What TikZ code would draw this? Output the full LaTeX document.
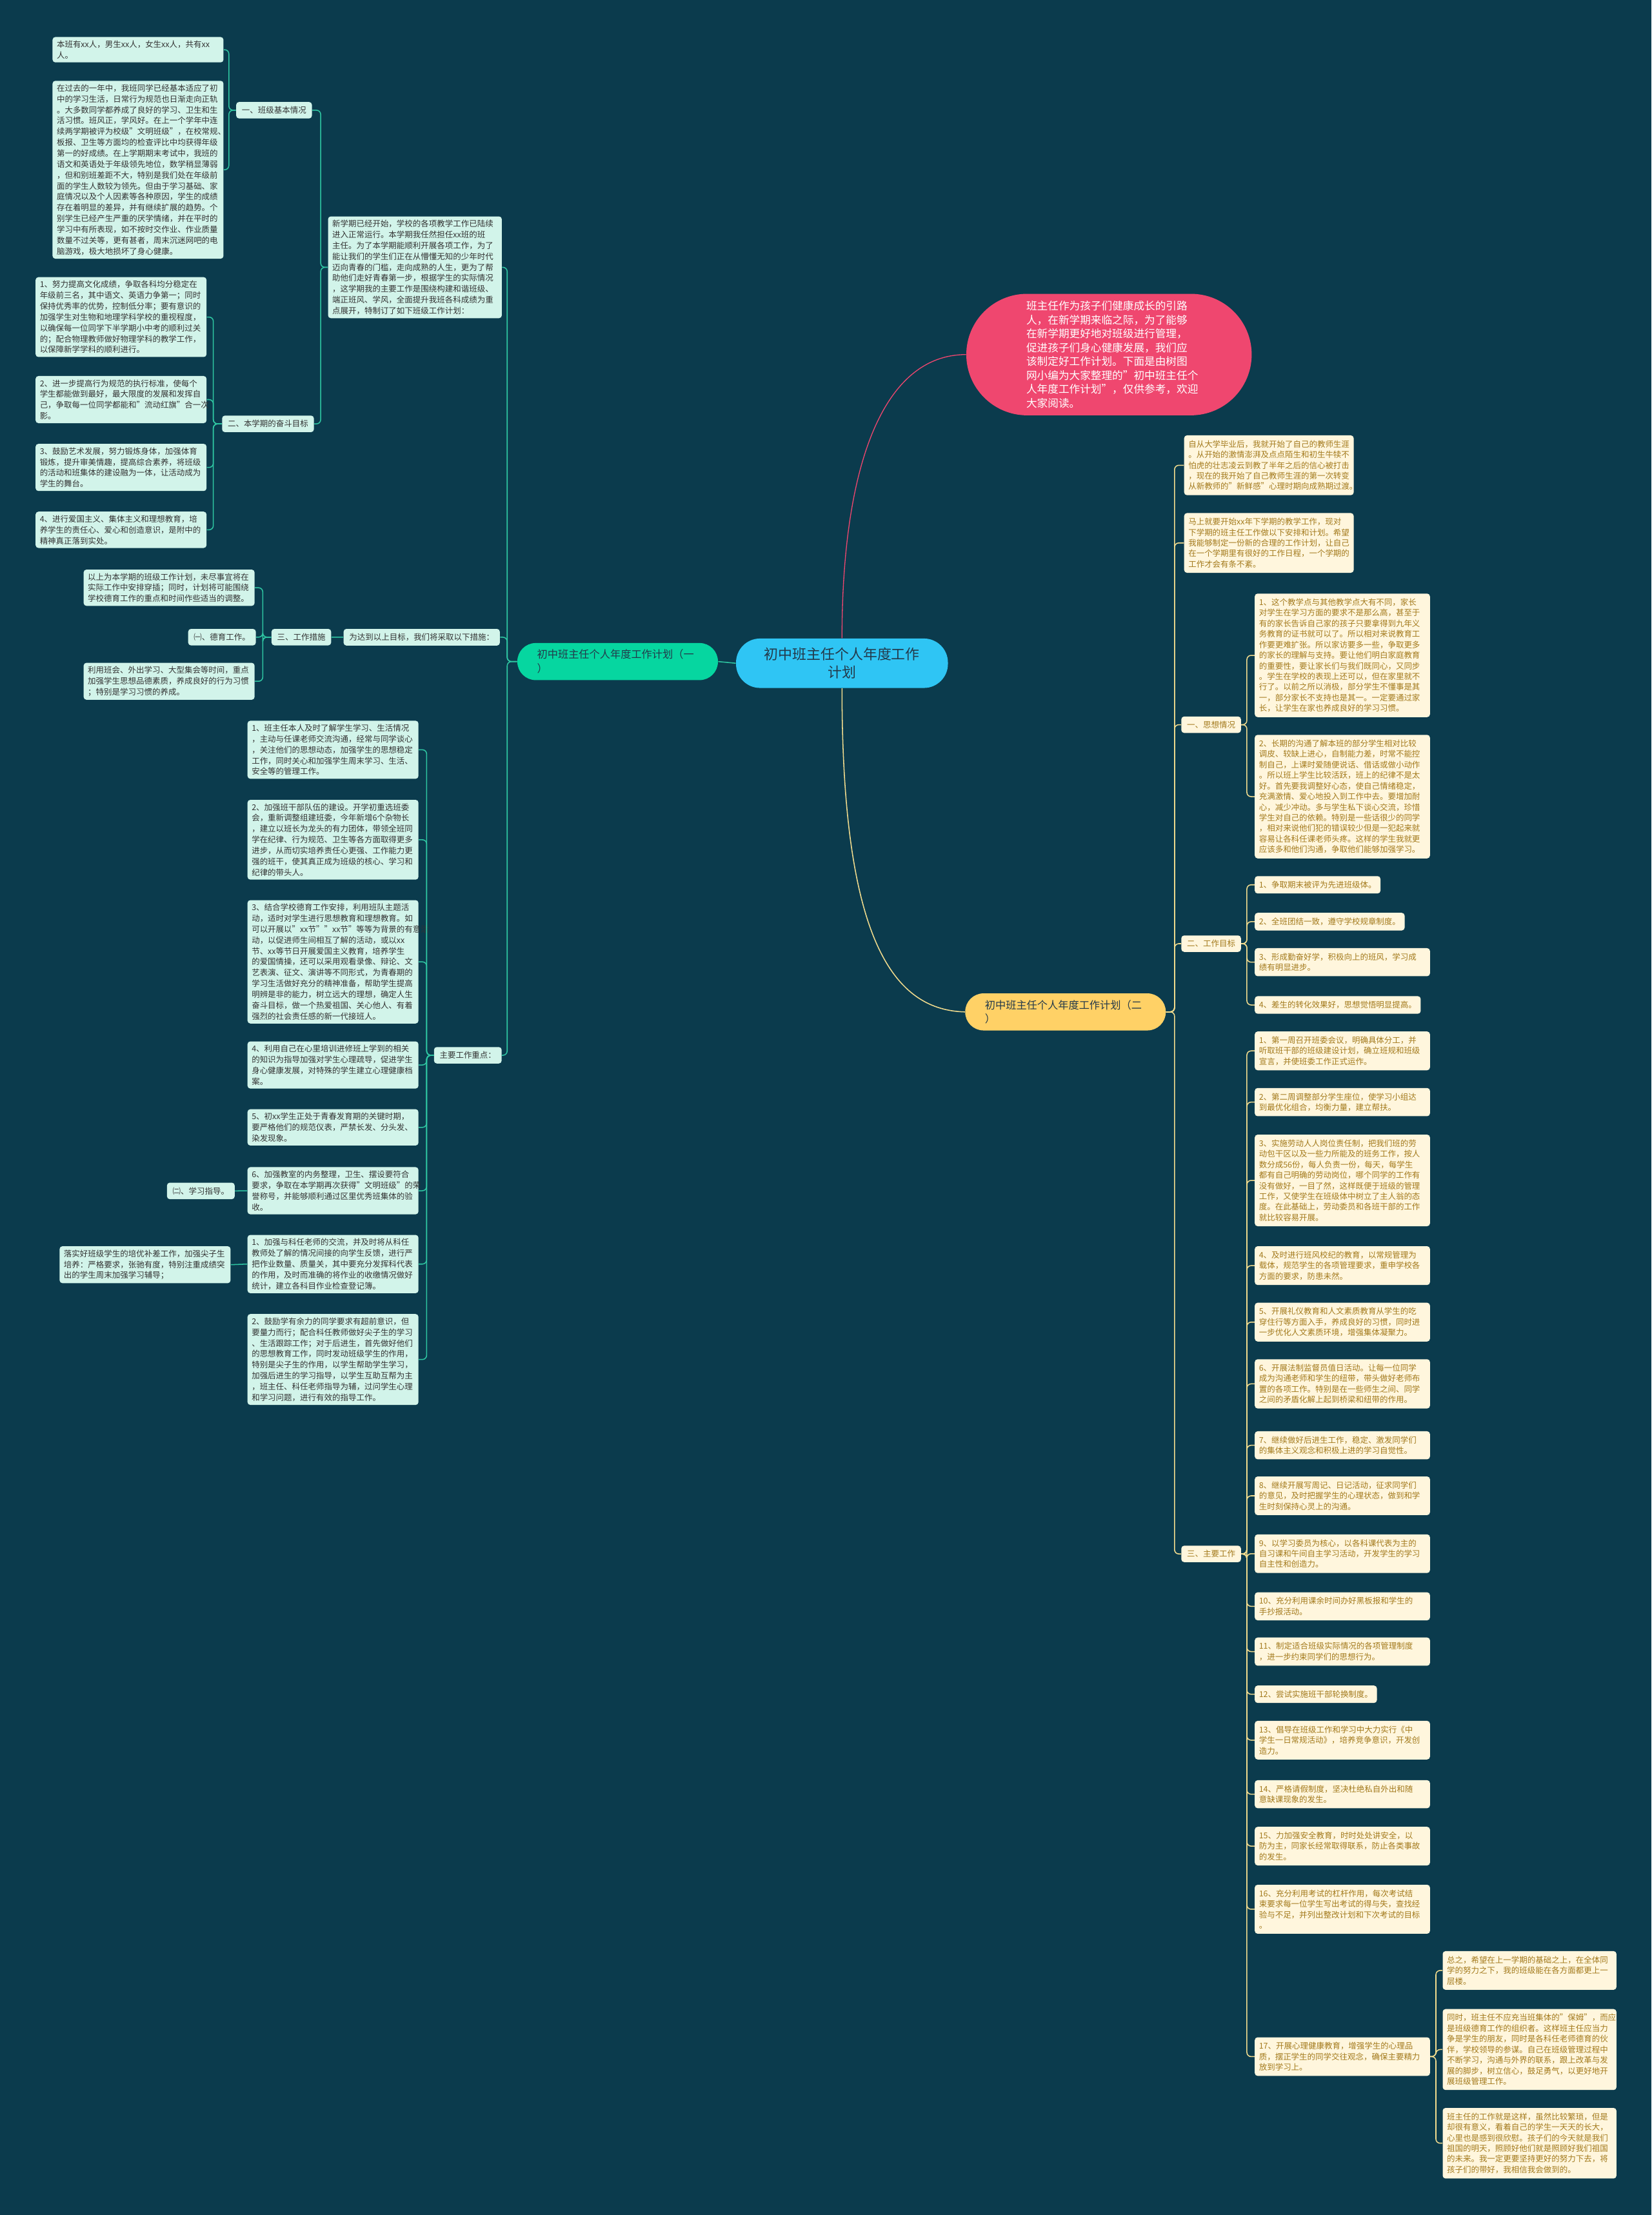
\documentclass[tikz,border=0pt]{standalone}
\usepackage{fontspec}
\setmainfont{Noto Sans CJK SC}
\usepackage{tikz}
\setlength{\parindent}{0pt}
\definecolor{bgcol}{HTML}{0B3B4D}
\definecolor{mint}{HTML}{D2F4EA}
\definecolor{minttext}{HTML}{333333}
\definecolor{tealline}{HTML}{2FC6A2}
\definecolor{brgreen}{HTML}{06D6A0}
\definecolor{brblue}{HTML}{2FC5F4}
\definecolor{brred}{HTML}{EF476F}
\definecolor{bryellow}{HTML}{FFD166}
\definecolor{cream}{HTML}{FFF6DD}
\definecolor{goldtext}{HTML}{A37A1C}
\definecolor{yline}{HTML}{F2DC8E}
\definecolor{darktext}{HTML}{23394A}
\newcommand\leaffont{\fontsize{5.7pt}{7.7pt}\selectfont}
\newcommand\rleaffont{\fontsize{5.7pt}{7.5pt}\selectfont}
\tikzset{
  lbox/.style   = {rectangle, fill=mint, text=minttext, rounded corners=2pt,
                   inner xsep=3pt, inner ysep=2.5pt, text width=115pt,
                   align=left, anchor=north west, font=\leaffont},
  ltag/.style   = {rectangle, fill=mint, text=minttext, rounded corners=2pt,
                   inner xsep=4pt, inner ysep=3.2pt, anchor=north west, font=\leaffont},
  rbox/.style   = {rectangle, fill=cream, text=goldtext, rounded corners=2pt,
                   inner xsep=3pt, inner ysep=3.5pt, text width=118pt,
                   align=left, anchor=north west, font=\rleaffont},
  rtag/.style   = {rectangle, fill=cream, text=goldtext, rounded corners=2pt,
                   inner xsep=3pt, inner ysep=3.5pt, anchor=north west, font=\rleaffont},
  rhead/.style  = {rtag, inner xsep=4pt, inner ysep=3.2pt},
  topic/.style  = {rectangle, fill=brblue, text=darktext, rounded corners=17pt,
                   minimum width=150pt, minimum height=35pt, align=center,
                   font=\fontsize{10pt}{12.5pt}\selectfont},
  branch/.style = {rectangle, rounded corners=13pt, text=darktext, text width=114pt,
                   inner xsep=14pt, inner ysep=4.6pt, align=left, anchor=north west,
                   font=\fontsize{7.4pt}{10pt}\selectfont},
  lead/.style   = {rectangle, fill=brred, text=white, rounded corners=43pt,
                   minimum width=202pt, minimum height=86pt, text width=117pt,
                   align=left, font=\fontsize{7.6pt}{9.8pt}\selectfont},
  glink/.style  = {draw=tealline, line width=0.7pt, rounded corners=3pt},
  ylink/.style  = {draw=yline, line width=0.7pt, rounded corners=3pt},
  plink/.style  = {draw=brred, line width=0.6pt}
}

\begin{document}
\begin{tikzpicture}[x=1pt, y=-1pt]
  \useasboundingbox (0,0) rectangle (1169,1568);
  \fill[bgcol] (0,0) rectangle (1169,1568);

  \node[topic] (center) at (596,469.5) {初中班主任个人年度工作\\计划};
  \node[lead] (lead) at (785,251) {班主任作为孩子们健康成长的引路\\人，在新学期来临之际，为了能够\\在新学期更好地对班级进行管理，\\促进孩子们身心健康发展，我们应\\该制定好工作计划。下面是由树图\\网小编为大家整理的"初中班主任个\\人年度工作计划"，仅供参考，欢迎\\大家阅读。};
  \node[branch, fill=brgreen]  (g1) at (366,455) {初中班主任个人年度工作计划（一\\）};
  \node[branch, fill=bryellow] (g2) at (683,703) {初中班主任个人年度工作计划（二\\）};

  \node[lbox] (na) at (37,26) {本班有xx人，男生xx人，女生xx人，共有xx\\人。};
  \node[lbox] (nb) at (37,57) {在过去的一年中，我班同学已经基本适应了初\\中的学习生活，日常行为规范也日渐走向正轨\\。大多数同学都养成了良好的学习、卫生和生\\活习惯。班风正，学风好。在上一个学年中连\\续两学期被评为校级"文明班级"，在校常规、\\板报、卫生等方面均的检查评比中均获得年级\\第一的好成绩。在上学期期末考试中，我班的\\语文和英语处于年级领先地位，数学稍显薄弱\\，但和别班差距不大，特别是我们处在年级前\\面的学生人数较为领先。但由于学习基础、家\\庭情况以及个人因素等各种原因，学生的成绩\\存在着明显的差异，并有继续扩展的趋势。个\\别学生已经产生严重的厌学情绪，并在平时的\\学习中有所表现，如不按时交作业、作业质量\\数量不过关等，更有甚者，周末沉迷网吧的电\\脑游戏，极大地损坏了身心健康。};
  \node[ltag] (l1) at (167,72) {一、班级基本情况};
  \node[lbox, text width=117pt] (intro) at (232,153) {新学期已经开始，学校的各项教学工作已陆续\\进入正常运行。本学期我任然担任xx班的班\\主任。为了本学期能顺利开展各项工作，为了\\能让我们的学生们正在从懵懂无知的少年时代\\迈向青春的门槛，走向成熟的人生，更为了帮\\助他们走好青春第一步，根据学生的实际情况\\，这学期我的主要工作是围绕构建和谐班级、\\端正班风、学风，全面提升我班各科成绩为重\\点展开，特制订了如下班级工作计划：};
  \node[lbox] (gl1) at (25,196) {1、努力提高文化成绩，争取各科均分稳定在\\年级前三名，其中语文、英语力争第一；同时\\保持优秀率的优势，控制低分率；要有意识的\\加强学生对生物和地理学科学校的重视程度，\\以确保每一位同学下半学期小中考的顺利过关\\的；配合物理教师做好物理学科的教学工作，\\以保障新学学科的顺利进行。};
  \node[lbox] (gl2) at (25,266) {2、进一步提高行为规范的执行标准，使每个\\学生都能做到最好，最大限度的发展和发挥自\\己，争取每一位同学都能和"流动红旗"合一次\\影。};
  \node[ltag] (l2) at (157,294) {二、本学期的奋斗目标};
  \node[lbox] (gl3) at (25,314) {3、鼓励艺术发展，努力锻炼身体，加强体育\\锻炼，提升审美情趣，提高综合素养，将班级\\的活动和班集体的建设融为一体，让活动成为\\学生的舞台。};
  \node[lbox] (gl4) at (25,362) {4、进行爱国主义、集体主义和理想教育，培\\养学生的责任心、爱心和创造意识，是附中的\\精神真正落到实处。};
  \node[lbox] (p1) at (59,403) {以上为本学期的班级工作计划，未尽事宜将在\\实际工作中安排穿插；同时，计划将可能围绕\\学校德育工作的重点和时间作些适当的调整。};
  \node[ltag] (de) at (133,445) {㈠、德育工作。};
  \node[ltag] (l3) at (192,445) {三、工作措施};
  \node[ltag] (cuo) at (243,445) {为达到以上目标，我们将采取以下措施：};
  \node[lbox] (p2) at (59,469) {利用班会、外出学习、大型集会等时间，重点\\加强学生思想品德素质，养成良好的行为习惯\\；特别是学习习惯的养成。};
  \node[lbox] (m1) at (175,510) {1、班主任本人及时了解学生学习、生活情况\\，主动与任课老师交流沟通，经常与同学谈心\\，关注他们的思想动态，加强学生的思想稳定\\工作，同时关心和加强学生周末学习、生活、\\安全等的管理工作。};
  \node[lbox] (m2) at (175,566) {2、加强班干部队伍的建设。开学初重选班委\\会，重新调整组建班委，今年新增6个杂物长\\，建立以班长为龙头的有力团体，带领全班同\\学在纪律、行为规范、卫生等各方面取得更多\\进步，从而切实培养责任心更强、工作能力更\\强的班干，使其真正成为班级的核心、学习和\\纪律的带头人。};
  \node[lbox] (m3) at (175,637) {3、结合学校德育工作安排，利用班队主题活\\动，适时对学生进行思想教育和理想教育。如\\可以开展以"xx节""xx节"等等为背景的有意活\\动，以促进师生间相互了解的活动，或以xx\\节、xx等节日开展爱国主义教育，培养学生\\的爱国情操，还可以采用观看录像、辩论、文\\艺表演、征文、演讲等不同形式，为青春期的\\学习生活做好充分的精神准备，帮助学生提高\\明辨是非的能力，树立远大的理想，确定人生\\奋斗目标，做一个热爱祖国、关心他人、有着\\强烈的社会责任感的新一代接班人。};
  \node[lbox] (m4) at (175,737) {4、利用自己在心里培训进修班上学到的相关\\的知识为指导加强对学生心理疏导，促进学生\\身心健康发展，对特殊的学生建立心理健康档\\案。};
  \node[ltag] (zhong) at (307,741) {主要工作重点：};
  \node[lbox] (m5) at (175,785) {5、初xx学生正处于青春发育期的关键时期，\\要严格他们的规范仪表，严禁长发、分头发、\\染发现象。};
  \node[lbox] (m6) at (175,826) {6、加强教室的内务整理，卫生、摆设要符合\\要求，争取在本学期再次获得"文明班级"的荣\\誉称号，并能够顺利通过区里优秀班集体的验\\收。};
  \node[ltag] (xd) at (118,837) {㈡、学习指导。};
  \node[lbox] (s1) at (175,874) {1、加强与科任老师的交流，并及时将从科任\\教师处了解的情况间接的向学生反馈，进行严\\把作业数量、质量关，其中要充分发挥科代表\\的作用，及时而准确的将作业的收缴情况做好\\统计，建立各科目作业检查登记簿。};
  \node[lbox] (ls) at (42,882) {落实好班级学生的培优补差工作，加强尖子生\\培养：严格要求，张驰有度，特别注重成绩突\\出的学生周末加强学习辅导；};
  \node[lbox] (s2) at (175,930) {2、鼓励学有余力的同学要求有超前意识，但\\要量力而行；配合科任教师做好尖子生的学习\\、生活跟踪工作；对于后进生，首先做好他们\\的思想教育工作，同时发动班级学生的作用，\\特别是尖子生的作用，以学生帮助学生学习，\\加强后进生的学习指导，以学生互助互帮为主\\，班主任、科任老师指导为辅，过问学生心理\\和学习问题，进行有效的指导工作。};

  \node[rbox, text width=114pt] (r1) at (838,308) {自从大学毕业后，我就开始了自己的教师生涯\\。从开始的激情澎湃及点点陌生和初生牛犊不\\怕虎的壮志凌云到教了半年之后的信心被打击\\，现在的我开始了自己教师生涯的第一次转变\\从新教师的"新鲜感"心理时期向成熟期过渡。};
  \node[rbox, text width=114pt] (r2) at (838,363) {马上就要开始xx年下学期的教学工作，现对\\下学期的班主任工作做以下安排和计划。希望\\我能够制定一份新的合理的工作计划，让自己\\在一个学期里有很好的工作日程，一个学期的\\工作才会有条不紊。};
  \node[rbox] (sr1) at (888,420) {1、这个教学点与其他教学点大有不同，家长\\对学生在学习方面的要求不是那么高，甚至于\\有的家长告诉自己家的孩子只要拿得到九年义\\务教育的证书就可以了。所以相对来说教育工\\作要更难扩张。所以家访要多一些，争取更多\\的家长的理解与支持。要让他们明白家庭教育\\的重要性，要让家长们与我们既同心，又同步\\。学生在学校的表现上还可以，但在家里就不\\行了。以前之所以消极，部分学生不懂事是其\\一，部分家长不支持也是其一。一定要通过家\\长，让学生在家也养成良好的学习习惯。};
  \node[rhead] (t1) at (836,507) {一、思想情况};
  \node[rbox] (sr2) at (888,520) {2、长期的沟通了解本班的部分学生相对比较\\调皮、较缺上进心，自制能力差，时常不能控\\制自己，上课时爱随便说话、借话或做小动作\\。所以班上学生比较活跃，班上的纪律不是太\\好。首先要我调整好心态，使自己情绪稳定，\\充满激情、爱心地投入到工作中去。要增加耐\\心，减少冲动。多与学生私下谈心交流，珍惜\\学生对自己的依赖。特别是一些话很少的同学\\，相对来说他们犯的错误较少但是一犯起来就\\容易让各科任课老师头疼。这样的学生我就更\\应该多和他们沟通，争取他们能够加强学习。};
  \node[rtag] (w1) at (888,620) {1、争取期末被评为先进班级体。};
  \node[rtag] (w2) at (888,646) {2、全班团结一致，遵守学校规章制度。};
  \node[rhead] (t2) at (836,662) {二、工作目标};
  \node[rbox] (w3) at (888,671) {3、形成勤奋好学，积极向上的班风，学习成\\绩有明显进步。};
  \node[rtag] (w4) at (888,705) {4、差生的转化效果好，思想觉悟明显提高。};
  \node[rbox] (z1) at (888,730) {1、第一周召开班委会议，明确具体分工，并\\听取班干部的班级建设计划，确立班规和班级\\宣言，并使班委工作正式运作。};
  \node[rbox] (z2) at (888,770) {2、第二周调整部分学生座位，使学习小组达\\到最优化组合，均衡力量，建立帮扶。};
  \node[rbox] (z3) at (888,803) {3、实施劳动人人岗位责任制，把我们班的劳\\动包干区以及一些力所能及的班务工作，按人\\数分成56份，每人负责一份，每天，每学生\\都有自己明确的劳动岗位，哪个同学的工作有\\没有做好，一目了然，这样既便于班级的管理\\工作，又使学生在班级体中树立了主人翁的态\\度。在此基础上，劳动委员和各班干部的工作\\就比较容易开展。};
  \node[rbox] (z4) at (888,882) {4、及时进行班风校纪的教育，以常规管理为\\载体，规范学生的各项管理要求，重申学校各\\方面的要求，防患未然。};
  \node[rbox] (z5) at (888,922) {5、开展礼仪教育和人文素质教育从学生的吃\\穿住行等方面入手，养成良好的习惯，同时进\\一步优化人文素质环境，增强集体凝聚力。};
  \node[rbox] (z6) at (888,962) {6、开展法制监督员值日活动。让每一位同学\\成为沟通老师和学生的纽带，带头做好老师布\\置的各项工作。特别是在一些师生之间、同学\\之间的矛盾化解上起到桥梁和纽带的作用。};
  \node[rbox] (z7) at (888,1013) {7、继续做好后进生工作，稳定、激发同学们\\的集体主义观念和积极上进的学习自觉性。};
  \node[rbox] (z8) at (888,1045) {8、继续开展写周记、日记活动，征求同学们\\的意见，及时把握学生的心理状态，做到和学\\生时刻保持心灵上的沟通。};
  \node[rbox] (z9) at (888,1086) {9、以学习委员为核心，以各科课代表为主的\\自习课和午间自主学习活动，开发学生的学习\\自主性和创造力。};
  \node[rhead] (t3) at (836,1094) {三、主要工作};
  \node[rbox] (z10) at (888,1127) {10、充分利用课余时间办好黑板报和学生的\\手抄报活动。};
  \node[rbox] (z11) at (888,1159) {11、制定适合班级实际情况的各项管理制度\\，进一步约束同学们的思想行为。};
  \node[rtag] (z12) at (888,1193) {12、尝试实施班干部轮换制度。};
  \node[rbox] (z13) at (888,1218) {13、倡导在班级工作和学习中大力实行《中\\学生一日常规活动》，培养竞争意识，开发创\\造力。};
  \node[rbox] (z14) at (888,1260) {14、严格请假制度，坚决杜绝私自外出和随\\意缺课现象的发生。};
  \node[rbox] (z15) at (888,1293) {15、力加强安全教育，时时处处讲安全，以\\防为主，同家长经常取得联系，防止各类事故\\的发生。};
  \node[rbox] (z16) at (888,1334) {16、充分利用考试的杠杆作用，每次考试结\\束要求每一位学生写出考试的得与失，查找经\\验与不足，并列出整改计划和下次考试的目标\\。};
  \node[rbox] (z17) at (888,1442) {17、开展心理健康教育，增强学生的心理品\\质，摆正学生的同学交往观念，确保主要精力\\放到学习上。};
  \node[rbox, text width=117pt] (c1) at (1021,1381) {总之，希望在上一学期的基础之上，在全体同\\学的努力之下，我的班级能在各方面都更上一\\层楼。};
  \node[rbox, text width=117pt] (c2) at (1021,1422) {同时，班主任不应充当班集体的"保姆"，而应\\是班级德育工作的组织者。这样班主任应当力\\争是学生的朋友，同时是各科任老师德育的伙\\伴，学校领导的参谋。自己在班级管理过程中\\不断学习，沟通与外界的联系，跟上改革与发\\展的脚步，树立信心，鼓足勇气，以更好地开\\展班级管理工作。};
  \node[rbox, text width=117pt] (c3) at (1021,1492) {班主任的工作就是这样，虽然比较繁琐，但是\\却很有意义，看着自己的学生一天天的长大，\\心里也是感到很欣慰。孩子们的今天就是我们\\祖国的明天，照顾好他们就是照顾好我们祖国\\的未来。我一定更要坚持更好的努力下去，将\\孩子们的带好，我相信我会做到的。};

  \draw[glink] (center.west) -- (g1.east);
  \draw[plink] (center.north) .. controls (596,330) and (625,251) .. (lead.west);
  \draw[ylink] (center.south) .. controls (596,660) and (630,715) .. (g2.west);

  \draw[glink] (g1.west) -- ++(-7,0) |- (intro.east);
  \draw[glink] (g1.west) -- ++(-7,0) |- (cuo.east);
  \draw[glink] (g1.west) -- ++(-7,0) |- (zhong.east);
  \draw[glink] (intro.west) -- ++(-5,0) |- (l1.east);
  \draw[glink] (intro.west) -- ++(-5,0) |- (l2.east);
  \draw[glink] (l1.west) -- ++(-5,0) |- (na.east);
  \draw[glink] (l1.west) -- ++(-5,0) |- (nb.east);
  \draw[glink] (l2.west) -- ++(-6,0) |- (gl1.east);
  \draw[glink] (l2.west) -- ++(-6,0) |- (gl2.east);
  \draw[glink] (l2.west) -- ++(-6,0) |- (gl3.east);
  \draw[glink] (l2.west) -- ++(-6,0) |- (gl4.east);
  \draw[glink] (cuo.west) -- (l3.east);
  \draw[glink] (l3.west) -- ++(-6,0) |- (p1.east);
  \draw[glink] (l3.west) -- ++(-6,0) |- (de.east);
  \draw[glink] (l3.west) -- ++(-6,0) |- (p2.east);
  \draw[glink] (zhong.west) -- ++(-5,0) |- (m1.east);
  \draw[glink] (zhong.west) -- ++(-5,0) |- (m2.east);
  \draw[glink] (zhong.west) -- ++(-5,0) |- (m3.east);
  \draw[glink] (zhong.west) -- ++(-5,0) |- (m4.east);
  \draw[glink] (zhong.west) -- ++(-5,0) |- (m5.east);
  \draw[glink] (zhong.west) -- ++(-5,0) |- (m6.east);
  \draw[glink] (zhong.west) -- ++(-5,0) |- (s1.east);
  \draw[glink] (zhong.west) -- ++(-5,0) |- (s2.east);
  \draw[glink] (m6.west) -- (xd.east);
  \draw[glink] (s1.west) -- (ls.east);

  \draw[ylink] (g2.east) -- ++(6,0) |- (r1.west);
  \draw[ylink] (g2.east) -- ++(6,0) |- (r2.west);
  \draw[ylink] (g2.east) -- ++(6,0) |- (t1.west);
  \draw[ylink] (g2.east) -- ++(6,0) |- (t2.west);
  \draw[ylink] (g2.east) -- ++(6,0) |- (t3.west);
  \draw[ylink] (t1.east) -- ++(4,0) |- (sr1.west);
  \draw[ylink] (t1.east) -- ++(4,0) |- (sr2.west);
  \draw[ylink] (t2.east) -- ++(4,0) |- (w1.west);
  \draw[ylink] (t2.east) -- ++(4,0) |- (w2.west);
  \draw[ylink] (t2.east) -- ++(4,0) |- (w3.west);
  \draw[ylink] (t2.east) -- ++(4,0) |- (w4.west);
  \draw[ylink] (t3.east) -- ++(4,0) |- (z1.west);
  \draw[ylink] (t3.east) -- ++(4,0) |- (z2.west);
  \draw[ylink] (t3.east) -- ++(4,0) |- (z3.west);
  \draw[ylink] (t3.east) -- ++(4,0) |- (z4.west);
  \draw[ylink] (t3.east) -- ++(4,0) |- (z5.west);
  \draw[ylink] (t3.east) -- ++(4,0) |- (z6.west);
  \draw[ylink] (t3.east) -- ++(4,0) |- (z7.west);
  \draw[ylink] (t3.east) -- ++(4,0) |- (z8.west);
  \draw[ylink] (t3.east) -- ++(4,0) |- (z9.west);
  \draw[ylink] (t3.east) -- ++(4,0) |- (z10.west);
  \draw[ylink] (t3.east) -- ++(4,0) |- (z11.west);
  \draw[ylink] (t3.east) -- ++(4,0) |- (z12.west);
  \draw[ylink] (t3.east) -- ++(4,0) |- (z13.west);
  \draw[ylink] (t3.east) -- ++(4,0) |- (z14.west);
  \draw[ylink] (t3.east) -- ++(4,0) |- (z15.west);
  \draw[ylink] (t3.east) -- ++(4,0) |- (z16.west);
  \draw[ylink] (t3.east) -- ++(4,0) |- (z17.west);
  \draw[ylink] (z17.east) -- ++(4,0) |- (c1.west);
  \draw[ylink] (z17.east) -- ++(4,0) |- (c2.west);
  \draw[ylink] (z17.east) -- ++(4,0) |- (c3.west);
\end{tikzpicture}
\end{document}
